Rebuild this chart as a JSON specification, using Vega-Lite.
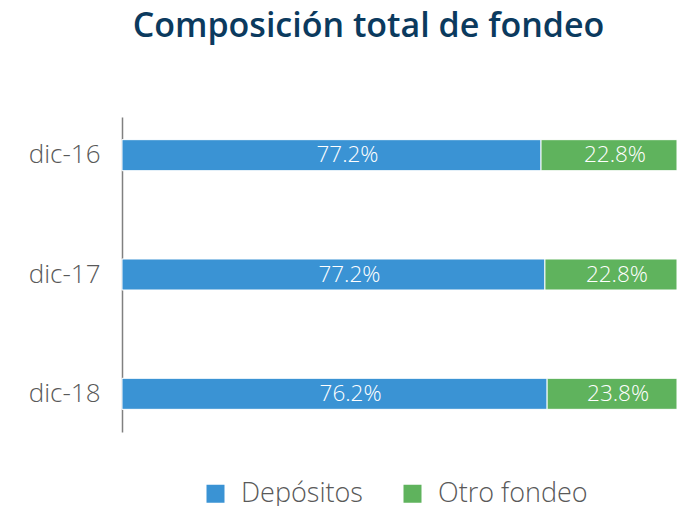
{
  "$schema": "https://vega.github.io/schema/vega-lite/v6.json",
  "width": 555,
  "height": 315,
  "autosize": {"type": "none"},
  "padding": {"left": 122, "top": 117, "right": 5, "bottom": 74},
  "background": "white",
  "title": {
    "text": "Composición total de fondeo",
    "anchor": "middle",
    "frame": "group",
    "dx": -31,
    "baseline": "alphabetic",
    "offset": 46,
    "font": "Open Sans",
    "fontSize": 34,
    "fontWeight": 600,
    "color": "#0b3a5e"
  },
  "config": {"view": {"stroke": null}},
  "data": {
    "values": [
      {"periodo": "dic-16", "serie": "Depósitos", "orden": 1, "valor": 75.5, "etiqueta": "77.2%"},
      {"periodo": "dic-16", "serie": "Otro fondeo", "orden": 2, "valor": 24.5, "etiqueta": "22.8%"},
      {"periodo": "dic-17", "serie": "Depósitos", "orden": 1, "valor": 76.2, "etiqueta": "77.2%"},
      {"periodo": "dic-17", "serie": "Otro fondeo", "orden": 2, "valor": 23.8, "etiqueta": "22.8%"},
      {"periodo": "dic-18", "serie": "Depósitos", "orden": 1, "valor": 76.6, "etiqueta": "76.2%"},
      {"periodo": "dic-18", "serie": "Otro fondeo", "orden": 2, "valor": 23.4, "etiqueta": "23.8%"}
    ]
  },
  "transform": [
    {"stack": "valor", "groupby": ["periodo"], "sort": [{"field": "orden"}], "as": ["x0", "x1"]},
    {"calculate": "(datum.x0 + datum.x1) / 2", "as": "xm"}
  ],
  "encoding": {
    "y": {
      "field": "periodo",
      "type": "nominal",
      "sort": ["dic-16", "dic-17", "dic-18"],
      "scale": {"paddingInner": 0.74, "paddingOuter": 0.19},
      "axis": {
        "title": null,
        "ticks": false,
        "labelFont": "Open Sans",
        "labelFontSize": 26,
        "labelFontWeight": 300,
        "labelColor": "#595959",
        "labelPadding": 22,
        "domainColor": "#808080",
        "domainWidth": 1.5
      }
    }
  },
  "layer": [
    {
      "mark": {"type": "bar", "stroke": "#ffffff", "strokeWidth": 1},
      "encoding": {
        "x": {"field": "x0", "type": "quantitative", "scale": {"domain": [0, 100]}, "axis": null},
        "x2": {"field": "x1"},
        "color": {
          "field": "serie",
          "type": "nominal",
          "scale": {"domain": ["Depósitos", "Otro fondeo"], "range": ["#3a93d4", "#5fb35d"]},
          "legend": {
            "title": null,
            "orient": "none",
            "direction": "horizontal",
            "legendX": 80,
            "legendY": 363,
            "symbolType": "square",
            "symbolSize": 324,
            "symbolStrokeWidth": 0,
            "labelFont": "Open Sans",
            "labelFontSize": 27,
            "labelFontWeight": 300,
            "labelColor": "#595959",
            "labelOffset": 12,
            "columnPadding": 36
          }
        }
      }
    },
    {
      "transform": [{"filter": "datum.orden == 1"}],
      "mark": {"type": "text", "color": "white", "font": "Open Sans", "fontSize": 22.5, "fontWeight": 300, "dx": 16, "baseline": "middle"},
      "encoding": {
        "x": {"field": "xm", "type": "quantitative"},
        "text": {"field": "etiqueta"}
      }
    },
    {
      "transform": [{"filter": "datum.orden == 2"}],
      "mark": {"type": "text", "color": "white", "font": "Open Sans", "fontSize": 22.5, "fontWeight": 300, "dx": 6, "baseline": "middle"},
      "encoding": {
        "x": {"field": "xm", "type": "quantitative"},
        "text": {"field": "etiqueta"}
      }
    }
  ]
}
